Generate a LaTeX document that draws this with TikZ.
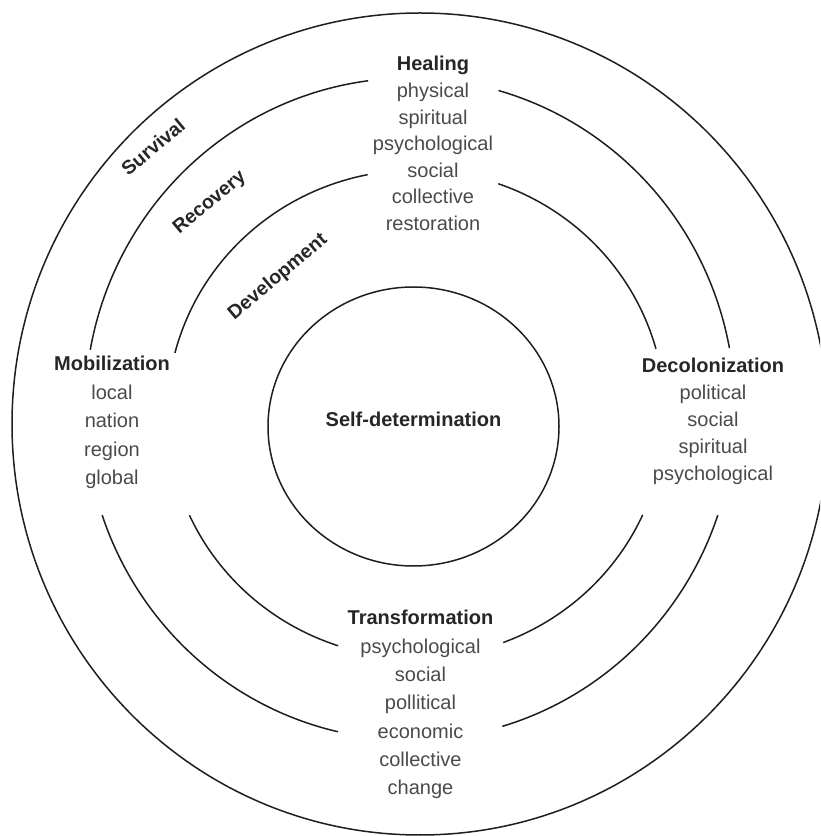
\documentclass[tikz,border=0pt]{standalone}
\usepackage{fontspec}
\setmainfont{Liberation Sans}
\definecolor{linecol}{HTML}{1E1E1E}
\definecolor{headcol}{HTML}{262626}
\definecolor{itemcol}{HTML}{4A4A4A}
\begin{document}
\begin{tikzpicture}[x=1pt,y=1pt,
  ring/.style={draw=linecol,line width=1.5pt},
  head/.style={anchor=base,inner sep=0pt,text=headcol,font=\fontsize{20}{24}\selectfont\bfseries},
  item/.style={anchor=base,inner sep=0pt,text=itemcol,font=\fontsize{20}{24}\selectfont},
  ringlabel/.style={anchor=center,inner sep=0pt,text=headcol,rotate=40,font=\fontsize{19.5}{24}\selectfont\bfseries}]
\useasboundingbox (0,0) rectangle (820,836);
\clip (0,0) rectangle (820,836);
% outer ring
\draw[ring] (420,412) ellipse [x radius=408, y radius=411];
% inner circle
\draw[ring] (413.5,409.5) ellipse [x radius=145.5, y radius=139.5];
% middle ring (Recovery)
\begin{scope}[shift={(410,427)}]
  \draw[ring] (-190.3:325 and 331) arc[start angle=-190.3, end angle=-262.6, x radius=325, y radius=331];
  \draw[ring] (-285.8:325 and 331) arc[start angle=-285.8, end angle=-349.4, x radius=325, y radius=331];
  \draw[ring] (-18.7:325 and 331) arc[start angle=-18.7, end angle=-73.5, x radius=325, y radius=331];
  \draw[ring] (-102.8:325 and 331) arc[start angle=-102.8, end angle=-161.3, x radius=325, y radius=331];
\end{scope}
% inner ring (Development)
\begin{scope}[shift={(416,422)}]
  \draw[ring] (-194.5:249 and 244) arc[start angle=-194.5, end angle=-258.8, x radius=249, y radius=244];
  \draw[ring] (-289.3:249 and 244) arc[start angle=-289.3, end angle=-344.5, x radius=249, y radius=244];
  \draw[ring] (-24.4:249 and 244) arc[start angle=-24.4, end angle=-69.5, x radius=249, y radius=244];
  \draw[ring] (-108.2:249 and 244) arc[start angle=-108.2, end angle=-155.5, x radius=249, y radius=244];
\end{scope}
% ring labels
\node[ringlabel] (survival) at (153,689) {Survival};
\node[ringlabel] (recovery) at (210,633) {Recovery};
\node[ringlabel] (development) at (278,559) {Development};
% centre
\node[head] (selfdet) at (413.5,409) {Self-determination};
% Healing
\node[head] (heal) at (433,765) {Healing};
\foreach \t [count=\i] in {physical,spiritual,psychological,social,collective,restoration}
  \node[item] (heal\i) at (433,765-26.6*\i) {\t};
% Mobilization
\node[head] (mob) at (112,465) {Mobilization};
\foreach \t [count=\i] in {local,nation,region,global}
  \node[item] (mob\i) at (112,465-28.5*\i) {\t};
% Decolonization
\node[head] (dec) at (713,463) {Decolonization};
\foreach \t [count=\i] in {political,social,spiritual,psychological}
  \node[item] (dec\i) at (713,463-26.8*\i) {\t};
% Transformation
\node[head] (trans) at (420.5,211) {Transformation};
\foreach \t [count=\i] in {psychological,social,pollitical,economic,collective,change}
  \node[item] (trans\i) at (420.5,211-28.3*\i) {\t};
\end{tikzpicture}
\end{document}
